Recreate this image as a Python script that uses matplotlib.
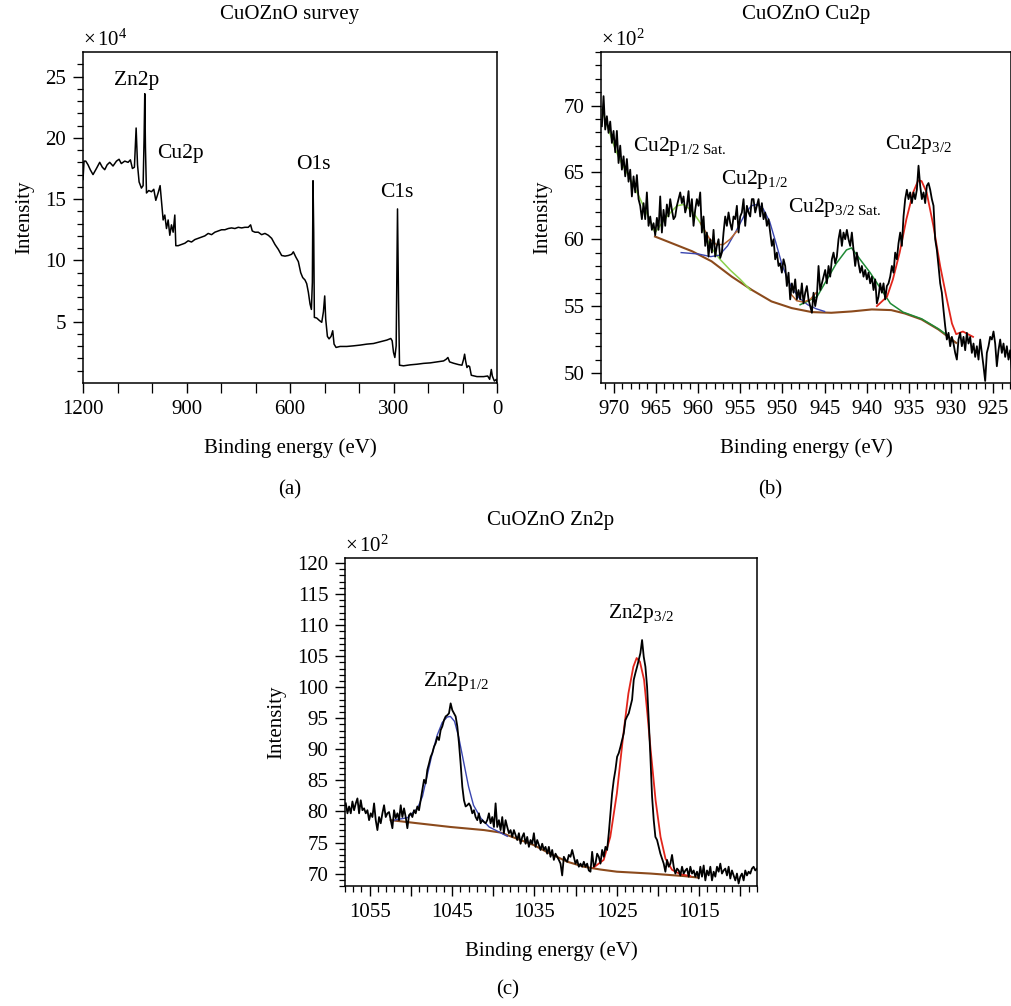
import numpy as np
import matplotlib
matplotlib.use("Agg")
import matplotlib.pyplot as plt
from matplotlib.ticker import MultipleLocator, FixedLocator, FuncFormatter

plt.rcParams['font.family'] = ['Liberation Serif', 'DejaVu Serif']
plt.rcParams['mathtext.fontset'] = 'custom'
plt.rcParams['mathtext.rm'] = 'Liberation Serif'
plt.rcParams['mathtext.it'] = 'Liberation Serif:italic'
plt.rcParams['font.size'] = 15

# ---- survey spectrum (intensity in units of 1e4)
survey_be = [1200, 1197, 1192, 1185.5, 1179, 1171, 1161, 1151.6, 1144, 1137, 1130, 1122.6,
             1113, 1103, 1095.5, 1089, 1079, 1069.4, 1062.6, 1056.8, 1051, 1046, 1042, 1037.4,
             1030.7, 1025.8, 1022.9, 1021, 1019, 1016, 1009.4, 1001.6, 994.8, 989, 982.3, 976.5,
             971.6, 967.7, 962.9, 958, 953.2, 948.4, 943.6, 938.7, 933.9, 931, 924.2, 914.5,
             904.8, 895.2, 885.5, 875.8, 866.1, 856.5, 846.8, 837.1, 827.4, 817.8, 808.1, 798.4,
             788.7, 779, 769.4, 759.7, 750, 740.3, 730.7, 721, 714.2, 709.4, 701.6, 691.9,
             682.3, 672.6, 662.9, 653.2, 643.6, 633.9, 624.2, 614.5, 604.9, 595.2, 590.3, 583.6,
             575.8, 569, 563.2, 556.5, 551.6, 546.8, 542, 538, 535.2, 533.3, 531.3, 529.4,
             522.6, 514.9, 508, 503.2, 499.4, 496.5, 491.6, 486.8, 481, 476.2, 472.3, 466.5,
             454.9, 435.5, 416.1, 396.8, 377.4, 358.1, 338.7, 319.4, 307.8, 303.9, 300, 296.1,
             292.3, 288.4, 285.5, 282.6, 271, 251.6, 232.3, 212.9, 193.5, 174.2, 154.8, 147.1,
             142.3, 137.4, 125.8, 111.3, 101.6, 96.8, 93.9, 91, 87.1, 83.2, 79.4, 74.5,
             58.1, 38.7, 27.1, 21.3, 16.5, 13.6, 7.7, 1.8, 0]
survey_counts = [16.6, 18.1, 18.1, 17.8, 17.4, 17.0, 17.5, 18.0, 17.6, 17.4, 17.8, 18.0,
                 17.7, 18.1, 18.25, 17.9, 18.1, 18.0, 18.2, 17.5, 17.6, 20.8, 17.8, 16.4,
                 15.9, 16.1, 20.0, 23.6, 19.2, 15.5, 15.7, 15.6, 15.8, 14.9, 15.5, 16.1,
                 14.5, 13.3, 13.7, 12.6, 13.3, 12.05, 12.9, 12.3, 13.7, 11.2, 11.2, 11.3,
                 11.4, 11.6, 11.5, 11.7, 11.8, 11.9, 12.0, 12.2, 12.1, 12.3, 12.4, 12.5,
                 12.5, 12.6, 12.65, 12.6, 12.7, 12.65, 12.7, 12.7, 12.9, 12.4, 12.3, 12.3,
                 12.1, 12.2, 12.05, 11.8, 11.3, 10.9, 10.4, 10.35, 10.4, 10.5, 10.7, 10.3,
                 9.9, 9.0, 8.6, 8.4, 8.1, 7.4, 6.45, 6.0, 8.2, 16.5, 12.3, 5.35,
                 5.3, 5.1, 4.95, 5.8, 7.1, 5.2, 3.8, 3.6, 3.8, 4.26, 3.17, 2.9,
                 2.98, 2.98, 3.03, 3.09, 3.17, 3.22, 3.36, 3.5, 3.63, 3.44, 2.5, 2.08,
                 3.03, 14.2, 6.9, 1.45, 1.4, 1.48, 1.53, 1.6, 1.64, 1.72, 1.8, 1.94,
                 2.08, 1.72, 1.61, 1.5, 1.45, 1.94, 2.35, 1.8, 1.26, 1.4, 1.34, 0.63,
                 0.52, 0.52, 0.57, 0.3, 1.1, 0.57, 0.16, 0.3, 0.03]
survey_labels = ['Zn2p', 'Cu2p', 'O1s', 'C1s']
survey_label_be = [1045, 919, 532, 290]
survey_label_y = [24.7, 18.7, 17.8, 15.5]

# ---- Cu2p region (intensity in units of 1e2), 0.2 eV steps
cu_be_range = (971.4, 922.8)
cu_counts = [68.45, 70.7, 68.2, 69.2, 67.95, 68.8, 67.2, 68.1, 66.5, 68.1, 65.7, 67.0,
             65.2, 66.2, 64.7, 66.0, 64.3, 65.2, 63.2, 64.7, 63.5, 64.8, 63.0, 62.5,
             61.5, 62.7, 61.5, 63.5, 61.0, 61.7, 60.7, 61.2, 60.3, 61.6, 60.7, 63.2,
             60.5, 62.2, 61.0, 62.6, 61.7, 63.0, 62.2, 61.5, 61.7, 62.5, 63.0, 63.5,
             62.7, 63.2, 62.0, 62.5, 63.6, 61.7, 63.0, 61.0, 62.2, 63.0, 62.5, 63.5,
             60.5, 61.7, 59.5, 60.5, 58.7, 60.0, 59.0, 60.7, 58.7, 59.5, 60.0, 58.6,
             59.0, 60.5, 61.7, 61.0, 62.0, 61.2, 60.7, 61.7, 61.5, 62.5, 60.5, 61.7,
             62.0, 63.0, 61.0, 62.5, 62.0, 61.7, 63.0, 63.0, 62.0, 62.5, 63.0, 61.7,
             62.7, 61.5, 62.0, 61.0, 61.5, 60.5, 59.5, 60.0, 58.5, 59.0, 58.0, 58.2,
             57.5, 58.5, 58.0, 56.5, 57.5, 55.5, 56.7, 56.0, 57.0, 55.5, 56.2, 55.5,
             56.7, 55.2, 56.0, 56.5, 55.5, 55.0, 54.5, 56.0, 55.0, 55.7, 58.0, 56.2,
             56.7, 57.2, 57.7, 56.7, 58.0, 57.2, 58.5, 59.0, 58.2, 58.7, 60.0, 60.7,
             59.5, 60.5, 60.0, 60.7, 60.0, 59.5, 60.5, 59.2, 58.0, 59.0, 58.2, 57.5,
             58.0, 57.2, 57.7, 57.0, 57.5, 56.7, 57.2, 56.2, 57.0, 55.2, 55.7, 56.7,
             56.0, 56.7, 55.5, 56.5, 56.7, 57.2, 58.0, 57.5, 59.0, 58.5, 59.7, 60.5,
             59.5, 61.7, 63.0, 63.7, 63.0, 63.5, 62.7, 63.5, 63.0, 63.7, 65.5, 64.0,
             63.0, 63.5, 62.7, 64.0, 64.2, 63.7, 63.0, 62.5, 60.0, 59.2, 58.0, 56.7,
             56.0, 54.7, 53.5, 52.5, 53.0, 52.0, 52.7, 52.2, 51.5, 51.0, 52.5, 53.0,
             52.0, 52.7, 51.7, 53.0, 52.2, 52.7, 51.5, 52.2, 51.2, 52.0, 51.0, 52.5,
             51.5, 50.5, 49.4, 51.5, 52.0, 52.7, 52.5, 53.1, 52.2, 50.5, 51.7, 52.5,
             51.5, 52.2, 51.2, 52.0, 51.0, 51.7, 50.2]

cu_bg_be = [965.1, 963.1, 960.7, 958.4, 956.0, 953.6, 951.3, 948.9, 946.5, 944.2, 941.8,
            939.4, 937.1, 935.5, 933.5, 931.5, 929.4]
cu_bg = [60.2, 59.7, 59.1, 58.35, 57.2, 56.2, 55.35, 54.85, 54.55, 54.5, 54.6,
         54.75, 54.7, 54.45, 54.0, 53.25, 52.25]

cu_sat12_be = [971.4, 970.6, 969.8, 969.0, 968.2, 967.0, 965.9, 965.1, 963.7, 962.5, 961.7,
               960.7, 959.7, 958.6, 957.4, 956.2, 955.0, 953.8]
cu_sat12 = [69.7, 68.2, 66.7, 65.6, 64.7, 63.2, 61.7, 60.5, 61.7, 62.5, 62.6,
            62.1, 61.2, 59.5, 58.5, 57.7, 57.0, 56.2]

cu_p12_be = [962.0, 960.0, 958.5, 957.5, 956.5, 955.5, 954.5, 953.7, 953.0, 952.3, 951.5,
             950.8, 950.0, 949.0, 948.0, 947.0, 946.0, 945.0]
cu_p12 = [59.0, 58.9, 58.7, 58.8, 59.5, 60.6, 61.8, 62.5, 62.6, 62.3, 61.3,
          59.8, 58.0, 56.5, 55.6, 55.1, 54.8, 54.6]

cu_sat32_be = [947.9, 945.9, 944.7, 943.6, 942.4, 941.8, 940.8, 939.6, 938.4, 937.2, 935.7,
               933.5, 931.5, 930.3]
cu_sat32 = [55.1, 55.7, 57.0, 58.2, 59.2, 59.35, 58.5, 57.5, 56.35, 55.2, 54.55,
            54.05, 53.3, 52.75]

cu_p32_be = [938.8, 937.6, 936.9, 936.1, 935.3, 934.5, 933.9, 933.5, 932.9, 932.1, 931.3,
             930.5, 929.9, 929.4, 928.6, 927.4]
cu_p32 = [55.0, 55.7, 57.0, 59.0, 61.5, 63.5, 64.4, 64.35, 63.5, 61.0, 58.0,
          55.5, 53.7, 52.9, 53.1, 52.7]

# summed envelope, only where it separates from the components
cu_env_be = [959.7, 958.6, 957.8, 957.0, 956.2, 955.4, np.nan, 949.0, 948.3, 947.5, 946.7, 946.0]
cu_env = [61.2, 60.0, 59.6, 59.6, 60.0, 60.6, np.nan, 55.9, 55.4, 55.3, 55.5, 56.0]

cu_labels = [r'Cu2p$_{1/2\ \mathrm{Sat.}}$', r'Cu2p$_{1/2}$', r'Cu2p$_{3/2\ \mathrm{Sat.}}$', r'Cu2p$_{3/2}$']
cu_label_be = [967.7, 957.3, 949.3, 937.8]
cu_label_y = [66.95, 64.5, 62.35, 67.1]

# ---- Zn2p region (intensity in units of 1e2), 0.2 eV steps
zn_be_range = (1057.9, 1008.0)
zn_counts = [81.3, 79.7, 80.8, 79.7, 81.6, 80.2, 81.3, 82.1, 79.7, 81.8, 80.2, 80.5,
             79.7, 80.2, 78.6, 79.7, 79.1, 81.3, 78.6, 77.0, 79.1, 78.1, 79.7, 81.0,
             79.1, 79.7, 79.9, 78.6, 77.3, 80.2, 78.9, 79.7, 78.6, 81.0, 79.1, 80.5,
             79.1, 77.3, 79.4, 79.7, 79.1, 80.2, 79.7, 80.8, 80.2, 81.8, 83.4, 85.1,
             84.5, 86.7, 87.7, 88.8, 89.4, 90.4, 91.0, 92.0, 91.5, 93.1, 93.7, 94.7,
             95.3, 95.5, 95.8, 97.4, 96.3, 95.8, 95.3, 93.7, 91.0, 87.7, 84.0, 81.8,
             80.8, 81.0, 81.3, 80.8, 79.7, 80.2, 79.1, 78.6, 79.7, 78.1, 78.6, 78.3,
             78.1, 78.6, 79.7, 78.1, 79.1, 77.5, 81.3, 77.5, 78.6, 77.0, 79.1, 76.5,
             78.6, 77.5, 76.5, 77.0, 75.9, 77.0, 76.2, 75.4, 76.5, 74.8, 75.9, 76.5,
             74.8, 75.9, 74.3, 75.4, 74.8, 76.5, 74.3, 75.4, 74.6, 73.8, 74.8, 73.8,
             74.3, 73.2, 74.3, 72.7, 73.8, 72.2, 73.2, 72.7, 72.2, 71.6, 69.7, 72.7,
             72.2, 71.9, 73.0, 72.7, 73.8, 72.7, 71.6, 72.2, 71.1, 71.6, 71.1, 71.9,
             71.1, 71.6, 70.5, 70.3, 73.5, 71.1, 71.6, 73.2, 72.7, 71.6, 73.8, 72.7,
             74.3, 73.8, 76.5, 79.7, 82.9, 85.1, 86.7, 88.8, 89.4, 90.4, 91.5, 92.6,
             94.7, 95.3, 95.8, 96.9, 98.0, 101.2, 102.3, 103.3, 104.4, 105.5, 107.6, 104.9,
             103.3, 100.1, 94.7, 88.8, 82.4, 78.6, 75.9, 75.4, 74.3, 73.2, 72.4, 71.6,
             70.3, 72.2, 71.1, 71.6, 73.0, 71.1, 70.0, 70.8, 70.5, 69.7, 71.1, 70.0,
             70.5, 70.8, 69.5, 71.1, 70.0, 70.5, 69.5, 70.3, 69.2, 71.1, 69.5, 71.3,
             68.9, 70.5, 69.7, 71.1, 68.9, 70.3, 69.5, 71.1, 70.3, 71.6, 70.0, 70.5,
             70.8, 69.7, 71.1, 69.2, 70.5, 69.7, 68.9, 70.0, 68.4, 69.5, 70.0, 68.9,
             70.5, 69.7, 70.3, 70.0, 70.8, 71.1, 70.5, 70.8]

zn_bg_be = [1052.45, 1049.2, 1045.2, 1041.1, 1039.1, 1037.1, 1035.1, 1033.1, 1031.0,
            1029.0, 1027.0, 1025.0, 1020.9, 1016.9, 1015.1]
zn_bg = [78.6, 78.1, 77.5, 77.0, 76.6, 75.6, 74.6, 73.2, 71.9,
         71.1, 70.65, 70.3, 70.0, 69.6, 69.35]

zn_p12_be = [1052.05, 1050.4, 1049.2, 1048.6, 1048.0, 1047.4, 1046.8, 1046.2, 1045.6, 1045.2,
             1044.7, 1044.2, 1043.6, 1043.0, 1042.4, 1041.5, 1040.5, 1039.3, 1038.3]
zn_p12 = [78.6, 79.0, 80.5, 82.4, 85.9, 89.4, 92.3, 94.3, 95.2, 95.3,
          94.5, 92.0, 88.0, 84.0, 81.0, 78.9, 77.5, 76.7, 76.0]

zn_p32_be = [1027.8, 1026.6, 1025.8, 1025.0, 1024.2, 1023.6, 1023.0, 1022.6, 1022.2, 1021.7,
             1021.3, 1020.9, 1020.3, 1019.7, 1019.1, 1018.3, 1017.3, 1016.1]
zn_p32 = [71.0, 72.2, 75.9, 82.9, 92.6, 99.0, 103.3, 104.7, 104.1, 101.2,
          95.8, 89.9, 81.8, 75.9, 72.4, 70.6, 69.9, 69.6]

zn_labels = [r'Zn2p$_{1/2}$', r'Zn2p$_{3/2}$']
zn_label_be = [1048.5, 1026.1]
zn_label_y = [100.9, 111.9]

c_data = 'black'
c_bg = '#8b4a1c'
c_env = '#b8662e'
c_lgreen = '#8bd24c'
c_dgreen = '#1f8a35'
c_blue = '#3a46b0'
c_red = '#e2261c'
fs = 15


def style_axis(ax, exponent):
    ax.tick_params(which='major', direction='out', length=7, width=1.0, labelsize=fs,
                   top=False, right=False, pad=5)
    ax.tick_params(which='minor', direction='out', length=4, width=0.9, top=False, right=False)
    for s in ax.spines.values():
        s.set_linewidth(1.1)
    ax.set_xlabel('Binding energy (eV)', fontsize=fs, labelpad=14)
    ax.set_ylabel('Intensity', fontsize=fs, labelpad=8)
    ax.text(0.0, 1.005, r'$\times\,10^{%d}$' % exponent, transform=ax.transAxes,
            ha='left', va='bottom', fontsize=fs)


fig = plt.figure(figsize=(10.11, 10.06), dpi=100)

# (a) survey
ax1 = fig.add_axes([0.0821, 0.6193, 0.4095, 0.329])
ax1.plot(survey_be, survey_counts, color=c_data, lw=1.1)
ax1.set_xlim(1200, 0)
ax1.set_ylim(0, 27)
ax1.xaxis.set_major_locator(MultipleLocator(300))
ax1.xaxis.set_minor_locator(MultipleLocator(100))
ax1.yaxis.set_major_locator(FixedLocator([5, 10, 15, 20, 25]))
ax1.yaxis.set_minor_locator(FixedLocator(range(1, 27)))
style_axis(ax1, 4)
ax1.tick_params(axis='x', which='minor', length=7)
for lab, x, y in zip(survey_labels, survey_label_be, survey_label_y):
    ax1.text(x, y, lab, ha='center', va='center', fontsize=15.5)
ax1.set_title('CuOZnO survey', fontsize=fs, pad=24)

# (b) Cu2p
ax2 = fig.add_axes([0.5945, 0.6193, 0.4055, 0.329])
cu_be = np.linspace(cu_be_range[0], cu_be_range[1], len(cu_counts))
ax2.plot(cu_bg_be, cu_bg, color=c_bg, lw=1.5)
ax2.plot(cu_sat12_be, cu_sat12, color=c_lgreen, lw=1.1)
ax2.plot(cu_p12_be, cu_p12, color=c_blue, lw=1.0)
ax2.plot(cu_sat32_be, cu_sat32, color=c_dgreen, lw=1.1)
ax2.plot(cu_p32_be, cu_p32, color=c_red, lw=1.3)
ax2.plot(cu_env_be, cu_env, color=c_env, lw=1.1)
ax2.plot(cu_be, cu_counts, color=c_data, lw=1.3)
ax2.set_xlim(971.5, 922.9)
ax2.set_ylim(49.25, 74)
ax2.xaxis.set_major_locator(MultipleLocator(5))
ax2.xaxis.set_minor_locator(MultipleLocator(1))
ax2.yaxis.set_major_locator(MultipleLocator(5))
ax2.yaxis.set_minor_locator(MultipleLocator(1))
style_axis(ax2, 2)
for lab, x, y in zip(cu_labels, cu_label_be, cu_label_y):
    ax2.text(x, y, lab, ha='left', va='center', fontsize=15.5)
ax2.set_title('CuOZnO Cu2p', fontsize=fs, pad=24)

# (c) Zn2p
ax3 = fig.add_axes([0.3412, 0.1193, 0.4075, 0.326])
zn_be = np.linspace(zn_be_range[0], zn_be_range[1], len(zn_counts))
ax3.plot(zn_bg_be, zn_bg, color=c_bg, lw=1.5)
ax3.plot(zn_p12_be, zn_p12, color=c_blue, lw=1.0)
ax3.plot(zn_p32_be, zn_p32, color=c_red, lw=1.3)
ax3.plot(zn_be, zn_counts, color=c_data, lw=1.3)
ax3.set_xlim(1058, 1008)
ax3.set_ylim(68, 120.8)
ax3.xaxis.set_major_locator(MultipleLocator(5))
ax3.xaxis.set_minor_locator(MultipleLocator(1))
ax3.xaxis.set_major_formatter(FuncFormatter(lambda v, p: '%d' % v if round(v) % 10 == 5 else ''))
ax3.yaxis.set_major_locator(MultipleLocator(5))
ax3.yaxis.set_minor_locator(MultipleLocator(1))
style_axis(ax3, 2)
for lab, x, y in zip(zn_labels, zn_label_be, zn_label_y):
    ax3.text(x, y, lab, ha='left', va='center', fontsize=15.5)
ax3.set_title('CuOZnO Zn2p', fontsize=fs, pad=24)

fig.text(290 / 1011, 1 - 490 / 1006, '(a)', ha='center', va='center', fontsize=fs)
fig.text(770 / 1011, 1 - 490 / 1006, '(b)', ha='center', va='center', fontsize=fs)
fig.text(508 / 1011, 1 - 990 / 1006, '(c)', ha='center', va='center', fontsize=fs)

fig.savefig('out.png', dpi=100)
